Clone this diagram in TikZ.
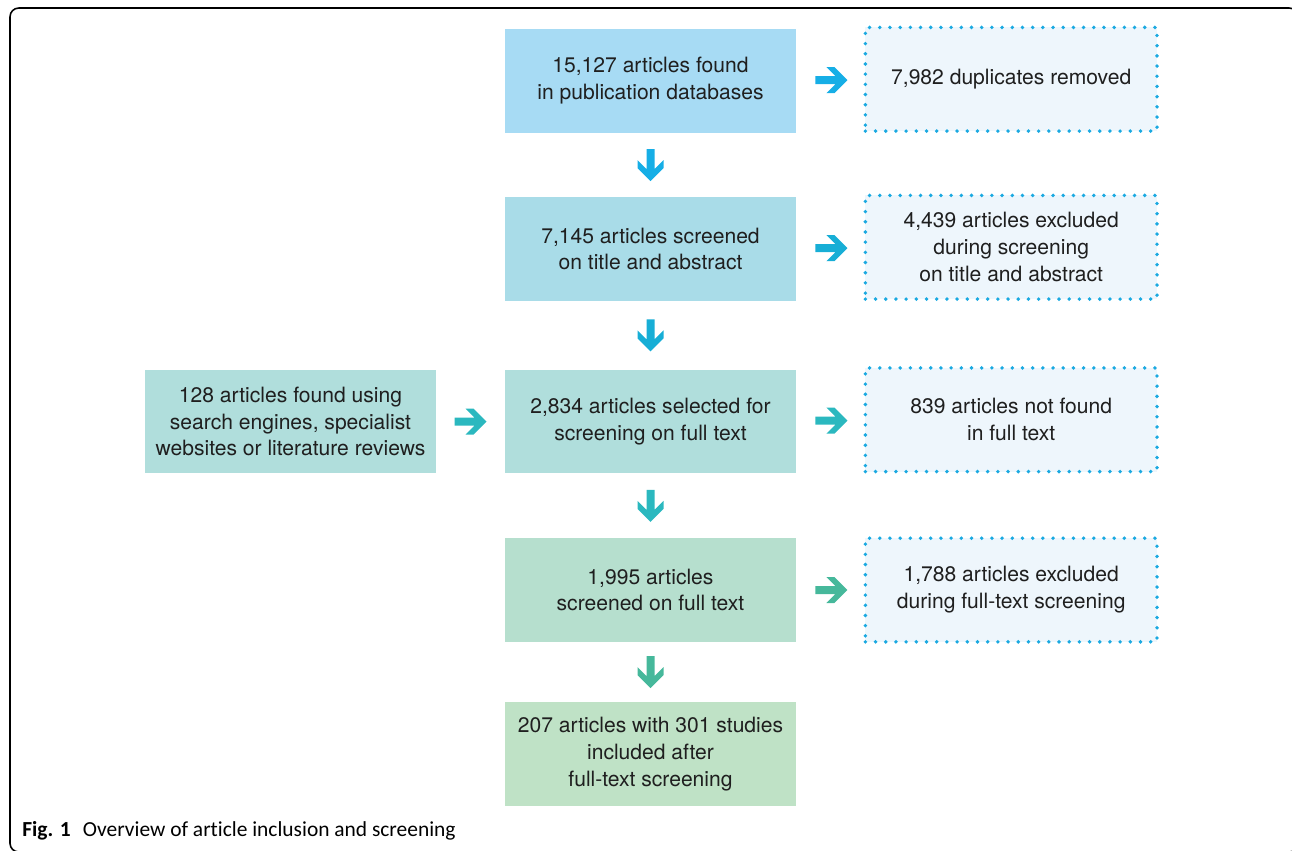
\documentclass[tikz,border=0pt]{standalone}
\usepackage{fontspec}
\setmainfont{TeX Gyre Heros}
\newfontfamily\capfont[Ligatures=NoCommon]{Carlito}
\usetikzlibrary{positioning}
\definecolor{boxA}{HTML}{A7DBF4}
\definecolor{boxB}{HTML}{A9DCE8}
\definecolor{boxC}{HTML}{B0DEDC}
\definecolor{boxD}{HTML}{B6DFCE}
\definecolor{boxE}{HTML}{BFE2C6}
\definecolor{sidefill}{HTML}{EEF6FC}
\definecolor{dotblue}{HTML}{1AA9E1}
\definecolor{arrA}{HTML}{16AEE6}
\definecolor{arrB}{HTML}{17AED6}
\definecolor{arrC}{HTML}{2BB8BF}
\definecolor{arrD}{HTML}{46B89B}

\begin{document}
\begin{tikzpicture}[x=0.02cm,y=-0.02cm]
  \tikzset{every node/.style={font=\fontsize{12}{15.3}\selectfont},
    stage/.style={minimum width=166pt,minimum height=59pt,inner sep=0pt,
      align=center,text=black!88},
    sidebox/.style={stage,fill=sidefill,draw=dotblue,line width=2.2pt,
      line cap=round,dash pattern=on 0pt off 5.8pt},
    chev/.pic={\fill (16,0) -- (3,13) -- (-5,13) -- (4,4) -- (-16,4) -- (-16,-4)
      -- (4,-4) -- (-5,-13) -- (3,-13) -- cycle;}}
  \useasboundingbox (0,0) rectangle (1292,850);
  \draw[line width=0.9pt,rounded corners=5pt] (10,8) rectangle (1298,852);
  % main column
  \node[stage,fill=boxA] (found) at (650.5,81) {15,127 articles found\\in publication databases};
  \node[stage,fill=boxB] (screened) at (650.5,249) {7,145 articles screened\\on title and abstract};
  \node[stage,fill=boxC] (selected) at (650.5,421.5) {2,834 articles selected for\\screening on full text};
  \node[stage,fill=boxD] (fulltext) at (650.5,590) {1,995 articles\\screened on full text};
  \node[stage,fill=boxE] (included) at (650.5,754) {207 articles with 301 studies\\included after\\full-text screening};
  % side boxes
  \node[stage,fill=boxC,left=38.5pt of selected] (extra) {128 articles found using\\search engines, specialist\\websites or literature reviews};
  \node[sidebox,right=38pt of found,yshift=1pt] (removed) {7,982 duplicates removed};
  \node[sidebox,right=38pt of screened,yshift=1pt] (excluded) {4,439 articles excluded\\during screening\\on title and abstract};
  \node[sidebox,right=38pt of selected,yshift=1pt] (notfound) {839 articles not found\\in full text};
  \node[sidebox,right=38pt of fulltext] (ftexcluded) {1,788 articles excluded\\during full-text screening};
  % arrows
  \path (found) -- (screened) pic[pos=.5,sloped,color=arrA]{chev};
  \path (screened) -- (selected) pic[pos=.5,sloped,color=arrB]{chev};
  \path (selected) -- (fulltext) pic[pos=.5,sloped,color=arrC]{chev};
  \path (fulltext) -- (included) pic[pos=.5,sloped,color=arrD]{chev};
  \path (found) -- (removed) pic[pos=.52,color=arrA]{chev};
  \path (screened) -- (excluded) pic[pos=.52,color=arrB]{chev};
  \path (selected) -- (notfound) pic[pos=.52,color=arrC]{chev};
  \path (fulltext) -- (ftexcluded) pic[pos=.52,color=arrD]{chev};
  \path (extra) -- (selected) pic[pos=.5,color=arrC]{chev};
  % caption
  \node[anchor=base west,inner sep=0pt,font=\capfont\fontsize{12.2}{15}\selectfont] (caption)
    at (22,836) {\textbf{Fig. 1}\hspace{7pt}Overview of article inclusion and screening};
\end{tikzpicture}
\end{document}
